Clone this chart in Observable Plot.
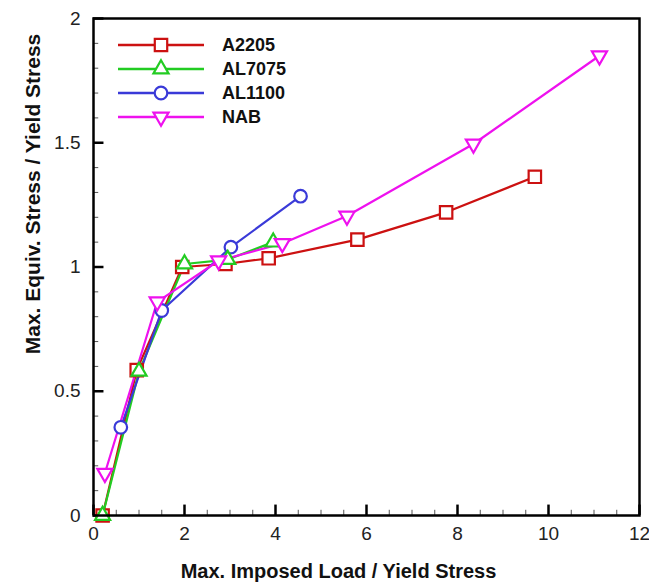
<!DOCTYPE html>
<html>
<head>
<meta charset="utf-8">
<script src="https://cdn.jsdelivr.net/npm/d3@7"></script>
<script src="https://cdn.jsdelivr.net/npm/@observablehq/plot@0.6"></script>
<style>
  html, body { margin: 0; padding: 0; background: #fff; }
  #wrap { position: relative; width: 649px; height: 584px; font-family: "Liberation Sans", Arial, sans-serif; }
  #legend { position: absolute; left: 116px; top: 33px; }
  .row { display: flex; align-items: center; height: 24px; }
  .row span { font-weight: bold; font-size: 18px; margin-left: 16px; color: #111; }
</style>
</head>
<body>
<div id="wrap"></div>
<script>
const seriesNames = ["A2205", "AL7075", "AL1100", "NAB"];
const seriesColors = ["#cc1111", "#22cc22", "#3a3ad8", "#ee11ee"];
const seriesSymbols = ["square", "triangle", "circle", "triangle"];
const seriesRotate = [0, 0, 0, 180];
const seriesR = [7, 5.6, 6.3, 5.6];

const a2205X = [0.2, 0.95, 1.95, 2.9, 3.85, 5.8, 7.75, 9.7];
const a2205Y = [0.0, 0.585, 1.0, 1.012, 1.035, 1.11, 1.22, 1.363];
const al7075X = [0.2, 1.0, 2.0, 2.95, 3.95];
const al7075Y = [0.0, 0.58, 1.012, 1.03, 1.1];
const al1100X = [0.6, 1.5, 3.02, 4.55];
const al1100Y = [0.355, 0.825, 1.08, 1.285];
const nabX = [0.25, 1.4, 2.75, 4.15, 5.57, 8.35, 11.12];
const nabY = [0.17, 0.86, 1.025, 1.095, 1.205, 1.495, 1.85];

const xMajor = [0, 2, 4, 6, 8, 10, 12];
const yMajor = [0, 0.5, 1, 1.5, 2];
const yMajorLabels = ["0", "0.5", "1", "1.5", "2"];
const xMinor = d3.range(0, 12.01, 0.5).filter(v => Math.abs(v % 2) > 1e-6);
const yMinor = d3.range(0, 2.001, 0.1).filter(v => Math.abs((v * 10) % 5) > 1e-6);

const xTitle = "Max. Imposed Load / Yield Stress";
const yTitle = "Max. Equiv. Stress / Yield Stress";

const raw = [[a2205X, a2205Y], [al7075X, al7075Y], [al1100X, al1100Y], [nabX, nabY]];
const data = raw.flatMap(([xs, ys], i) => xs.map((x, j) => ({series: seriesNames[i], x, y: ys[j], rot: seriesRotate[i], size: seriesR[i]})));

const plot = Plot.plot({
  width: 649,
  height: 584,
  marginTop: 18,
  marginRight: 10,
  marginBottom: 69,
  marginLeft: 93,
  style: {fontFamily: "'Liberation Sans', Arial, sans-serif", background: "#fff"},
  x: {domain: [0, 12]},
  y: {domain: [0, 2]},
  r: {type: "identity"},
  color: {domain: seriesNames, range: seriesColors},
  symbol: {domain: seriesNames, range: seriesSymbols},
  marks: [
    Plot.axisX({ticks: xMajor, tickSize: 0, tickPadding: 11, fontSize: 19, color: "#222", label: null}),
    Plot.axisY({ticks: yMajor, tickFormat: (d, i) => yMajorLabels[i], tickSize: 0, tickPadding: 13, fontSize: 19, color: "#222", label: null}),
    Plot.ruleX(xMajor, {x: d => d, y1: 0, y2: 0.042, stroke: "#000", strokeWidth: 2.5}),
    Plot.ruleX(xMinor, {x: d => d, y1: 0, y2: 0.021, stroke: "#555", strokeWidth: 1}),
    Plot.ruleY(yMajor, {y: d => d, x1: 0, x2: 0.23, stroke: "#000", strokeWidth: 2.5}),
    Plot.ruleY(yMinor, {y: d => d, x1: 0, x2: 0.115, stroke: "#555", strokeWidth: 1}),
    Plot.line(data, {x: "x", y: "y", z: "series", stroke: "series", strokeWidth: 2.2}),
    Plot.dot(data, {x: "x", y: "y", symbol: "series", stroke: "series", fill: "white", r: "size", strokeWidth: 2.2, rotate: "rot"}),
    Plot.frame({stroke: "#000", strokeWidth: 2.5}),
    Plot.text([xTitle], {frameAnchor: "bottom", textAnchor: "middle", lineAnchor: "middle", dx: -28, dy: 56, fontSize: 20, fontWeight: "bold", fill: "#111"}),
    Plot.text([yTitle], {frameAnchor: "left", textAnchor: "middle", lineAnchor: "middle", dx: -60, dy: -73, rotate: -90, fontSize: 21, fontWeight: "bold", fill: "#111"})
  ]
});

const wrap = document.getElementById("wrap");
wrap.appendChild(plot);

// Legend overlay
const legend = document.createElement("div");
legend.id = "legend";
seriesNames.forEach((name, i) => {
  const row = document.createElement("div");
  row.className = "row";
  const svg = d3.create("svg").attr("width", 90).attr("height", 24);
  svg.append("line").attr("x1", 2).attr("x2", 88).attr("y1", 12).attr("y2", 12)
    .attr("stroke", seriesColors[i]).attr("stroke-width", 2.5);
  const symType = {square: d3.symbolSquare, triangle: d3.symbolTriangle, circle: d3.symbolCircle}[seriesSymbols[i]];
  svg.append("path").attr("d", d3.symbol(symType, seriesR[i] * seriesR[i] * Math.PI)())
    .attr("transform", `translate(45,12) rotate(${seriesRotate[i]})`)
    .attr("fill", "white").attr("stroke", seriesColors[i]).attr("stroke-width", 2.2);
  row.appendChild(svg.node());
  const label = document.createElement("span");
  label.textContent = name;
  row.appendChild(label);
  legend.appendChild(row);
});
wrap.appendChild(legend);
</script>
</body>
</html>
